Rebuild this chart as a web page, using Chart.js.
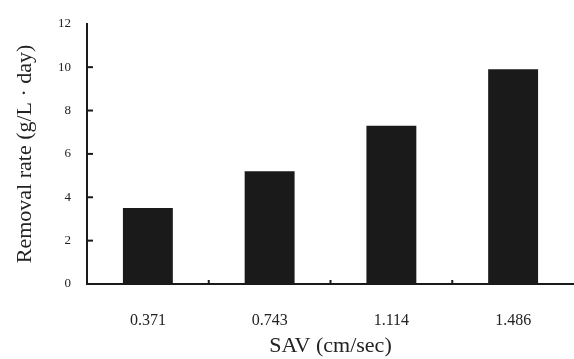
<!DOCTYPE html>
<html lang="en">
<head>
  <meta charset="UTF-8">
  <title>Removal rate vs SAV</title>
  <style>
    html, body { margin: 0; padding: 0; background: #fff; }
    #wrap { width: 574px; height: 359px; position: relative; }
  </style>
</head>
<body>
  <div id="wrap"><canvas id="chart"></canvas></div>

  <script src="https://cdn.jsdelivr.net/npm/chart.js"></script>
  <script>
    const categories = ['0.371', '0.743', '1.114', '1.486'];
    const removalRate = [3.5, 5.2, 7.3, 9.9];
    const yTicks = [0, 2, 4, 6, 8, 10, 12];

    const ink = '#1a1a1a';
    const font = 'Liberation Serif, Times New Roman, serif';

    // inward tick marks, placed from the chart's own scales
    const axisMarks = {
      id: 'axisMarks',
      afterDraw(chart) {
        const ctx = chart.ctx;
        const x = chart.scales.x, y = chart.scales.y;
        ctx.save();
        ctx.strokeStyle = ink;
        ctx.lineWidth = 2;
        yTicks.slice(1, -1).forEach(v => {
          const py = y.getPixelForValue(v);
          ctx.beginPath();
          ctx.moveTo(x.left, py);
          ctx.lineTo(x.left + 6, py);
          ctx.stroke();
        });
        for (let i = 0; i < categories.length - 1; i++) {
          const px = (x.getPixelForValue(i) + x.getPixelForValue(i + 1)) / 2;
          ctx.beginPath();
          ctx.moveTo(px, y.bottom);
          ctx.lineTo(px, y.bottom - 4);
          ctx.stroke();
        }
        ctx.restore();
      }
    };

    new Chart(document.getElementById('chart'), {
      type: 'bar',
      data: {
        labels: categories,
        datasets: [{
          data: removalRate,
          backgroundColor: ink,
          borderWidth: 0,
          barPercentage: 0.41,
          categoryPercentage: 1
        }]
      },
      options: {
        responsive: true,
        maintainAspectRatio: false,
        animation: false,
        layout: { padding: { top: 16, right: 0, bottom: 0, left: 0 } },
        plugins: {
          legend: { display: false },
          tooltip: { enabled: false }
        },
        scales: {
          x: {
            grid: { display: false, drawTicks: false },
            border: { color: ink, width: 2 },
            ticks: {
              color: '#222',
              padding: 27,
              font: { family: font, size: 16 },
              maxRotation: 0
            },
            title: {
              display: true,
              text: 'SAV (cm/sec)',
              color: '#222',
              font: { family: font, size: 22 },
              padding: { top: 0, bottom: 0 }
            },
            afterFit(scale) { scale.height = 75; }
          },
          y: {
            min: 0,
            max: 12,
            afterBuildTicks(scale) { scale.ticks = yTicks.map(v => ({ value: v })); },
            grid: { display: false, drawTicks: false },
            border: { color: ink, width: 2 },
            ticks: {
              color: '#222',
              padding: 16,
              font: { family: font, size: 13 }
            },
            title: {
              display: true,
              text: 'Removal rate (g/L · day)',
              color: '#222',
              font: { family: font, size: 22 },
              padding: { top: 12, bottom: 0 }
            },
            afterFit(scale) { scale.width = 87; }
          }
        }
      },
      plugins: [axisMarks]
    });
  </script>
</body>
</html>
